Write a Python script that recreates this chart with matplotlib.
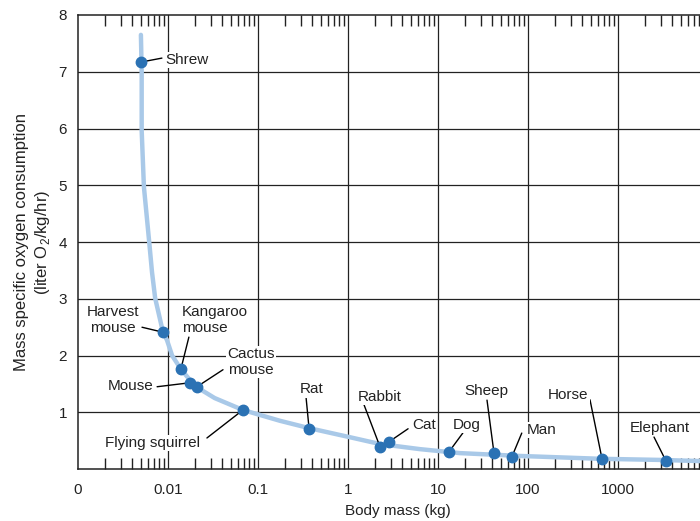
import matplotlib
matplotlib.use("Agg")
import matplotlib.pyplot as plt
from matplotlib.ticker import LogLocator, NullFormatter, FixedLocator, FixedFormatter

plt.rcParams['font.family'] = ['Liberation Sans', 'DejaVu Sans']
plt.rcParams['mathtext.fontset'] = 'custom'
plt.rcParams['mathtext.rm'] = 'Liberation Sans'

# ---- data ----
animals = ["Shrew", "Harvest\nmouse", "Kangaroo\nmouse", "Mouse", "Cactus\nmouse",
           "Flying squirrel", "Rat", "Rabbit", "Cat", "Dog", "Sheep", "Man",
           "Horse", "Elephant"]
mass_kg = [0.0050, 0.0088, 0.0139, 0.0176, 0.021, 0.068, 0.37, 2.27, 2.86,
           13.2, 41.9, 66, 664, 3415]
o2_rate = [7.17, 2.41, 1.76, 1.52, 1.45, 1.04, 0.70, 0.39, 0.48, 0.30, 0.28,
           0.21, 0.18, 0.14]

curve_mass = [0.0050, 0.0051, 0.0051, 0.0054, 0.0062, 0.00664, 0.0072, 0.0088,
              0.00975, 0.0111, 0.0139, 0.0200, 0.033, 0.068, 0.175, 0.37, 1.05,
              2.27, 6.3, 17.5, 81, 631, 2930, 8130]
curve_rate = [7.65, 7.0, 5.96, 4.97, 3.98, 3.47, 3.01, 2.41, 2.27, 2.0, 1.76,
              1.46, 1.25, 1.04, 0.85, 0.72, 0.56, 0.44, 0.35, 0.28, 0.23, 0.18,
              0.16, 0.14]

x_tick_vals = [1e-3, 1e-2, 1e-1, 1, 10, 100, 1000, 10000]
x_tick_labels = ["0", "0.01", "0.1", "1", "10", "100", "1000", "10000"]
y_tick_vals = [1, 2, 3, 4, 5, 6, 7, 8]

# label layout: (text offset px, ha, multialign, leader-line start offset px)
layout = {
    "Shrew": ((24, 2), "left", "left", (21, 4)),
    "Harvest\nmouse": ((-50, 12), "center", "center", (-21, 5)),
    "Kangaroo\nmouse": ((1, 49), "left", "left", (8, 32)),
    "Mouse": ((-37, -3), "right", "right", (-33, -4)),
    "Cactus\nmouse": ((30, 25), "left", "center", (26, 17)),
    "Flying squirrel": ((-90, -33), "center", "center", (-36, -28)),
    "Rat": ((2, 40), "center", "center", (-3, 31)),
    "Rabbit": ((0, 50), "center", "center", (-16, 42)),
    "Cat": ((23, 17), "left", "left", (19, 13)),
    "Dog": ((4, 27), "left", "left", (14, 19)),
    "Sheep": ((-8, 62), "center", "center", (-7, 53)),
    "Man": ((15, 27), "left", "left", (10, 24)),
    "Horse": ((-34, 64), "center", "center", (-12, 59)),
    "Elephant": ((-6, 33), "center", "center", (-12, 24)),
}

W, H = 700, 521
fig = plt.figure(figsize=(W / 100, H / 100), dpi=100)
ax = fig.add_axes([78 / W, 1 - 469 / H, 622 / W, 454 / H])

ax.set_xscale('log')
ax.set_xlim(1e-3, 10 ** 3.911)
ax.set_ylim(0, 8)

# grid
for xv in x_tick_vals[1:]:
    ax.axvline(xv, color='#222222', lw=0.9, zorder=1)
for yv in y_tick_vals[:-1]:
    ax.axhline(yv, color='#222222', lw=0.9, zorder=1)

# curve and points
ax.plot(curve_mass, curve_rate, color='#a9c9e8', lw=3.2, zorder=3,
        solid_capstyle='round', solid_joinstyle='round')
ax.plot(mass_kg, o2_rate, 'o', color='#2b72b4', ms=7.5, zorder=5, mec='#2b72b4')

# labels
for name, mx, my in zip(animals, mass_kg, o2_rate):
    (tdx, tdy), ha, ma, (ldx, ldy) = layout[name]
    ax.annotate('', xy=(mx, my), xytext=(ldx, ldy), textcoords='offset pixels',
                arrowprops=dict(arrowstyle='-', color='black', lw=1.0,
                                shrinkA=0, shrinkB=3), zorder=4)
    ax.annotate(name, xy=(mx, my), xytext=(tdx, tdy), textcoords='offset pixels',
                ha=ha, va='center', multialignment=ma, fontsize=11,
                color='#222222', linespacing=1.15, zorder=6,
                bbox=dict(facecolor='white', edgecolor='none', pad=1.0))

# ticks
ax.xaxis.set_major_locator(FixedLocator(x_tick_vals))
ax.xaxis.set_major_formatter(FixedFormatter(x_tick_labels))
ax.xaxis.set_minor_locator(LogLocator(base=10, subs=[2, 3, 4, 5, 6, 7, 8, 9], numticks=20))
ax.xaxis.set_minor_formatter(NullFormatter())
ax.tick_params(axis='x', which='major', length=0, pad=10, labelsize=11, colors='#222222')
ax.tick_params(axis='x', which='minor', direction='in', length=8, width=1.0,
               top=True, bottom=True, color='#222222')
ax.set_yticks(y_tick_vals)
ax.set_yticklabels([str(v) for v in y_tick_vals])
ax.tick_params(axis='y', which='major', length=0, pad=8, labelsize=11, colors='#222222')

for s in ['left', 'bottom', 'top']:
    ax.spines[s].set_color('#222222')
    ax.spines[s].set_linewidth(1.1)
ax.spines['right'].set_visible(False)

ax.set_xlabel('Body mass (kg)', fontsize=11, color='#222222')
ax.xaxis.set_label_coords(0.514, -0.077)
ax.set_ylabel('Mass specific oxygen consumption\n(liter O$_2$/kg/hr)', fontsize=12,
              color='#222222', linespacing=1.3)
ax.yaxis.set_label_coords(-0.042, 0.5)

fig.savefig('out.png', dpi=100)
